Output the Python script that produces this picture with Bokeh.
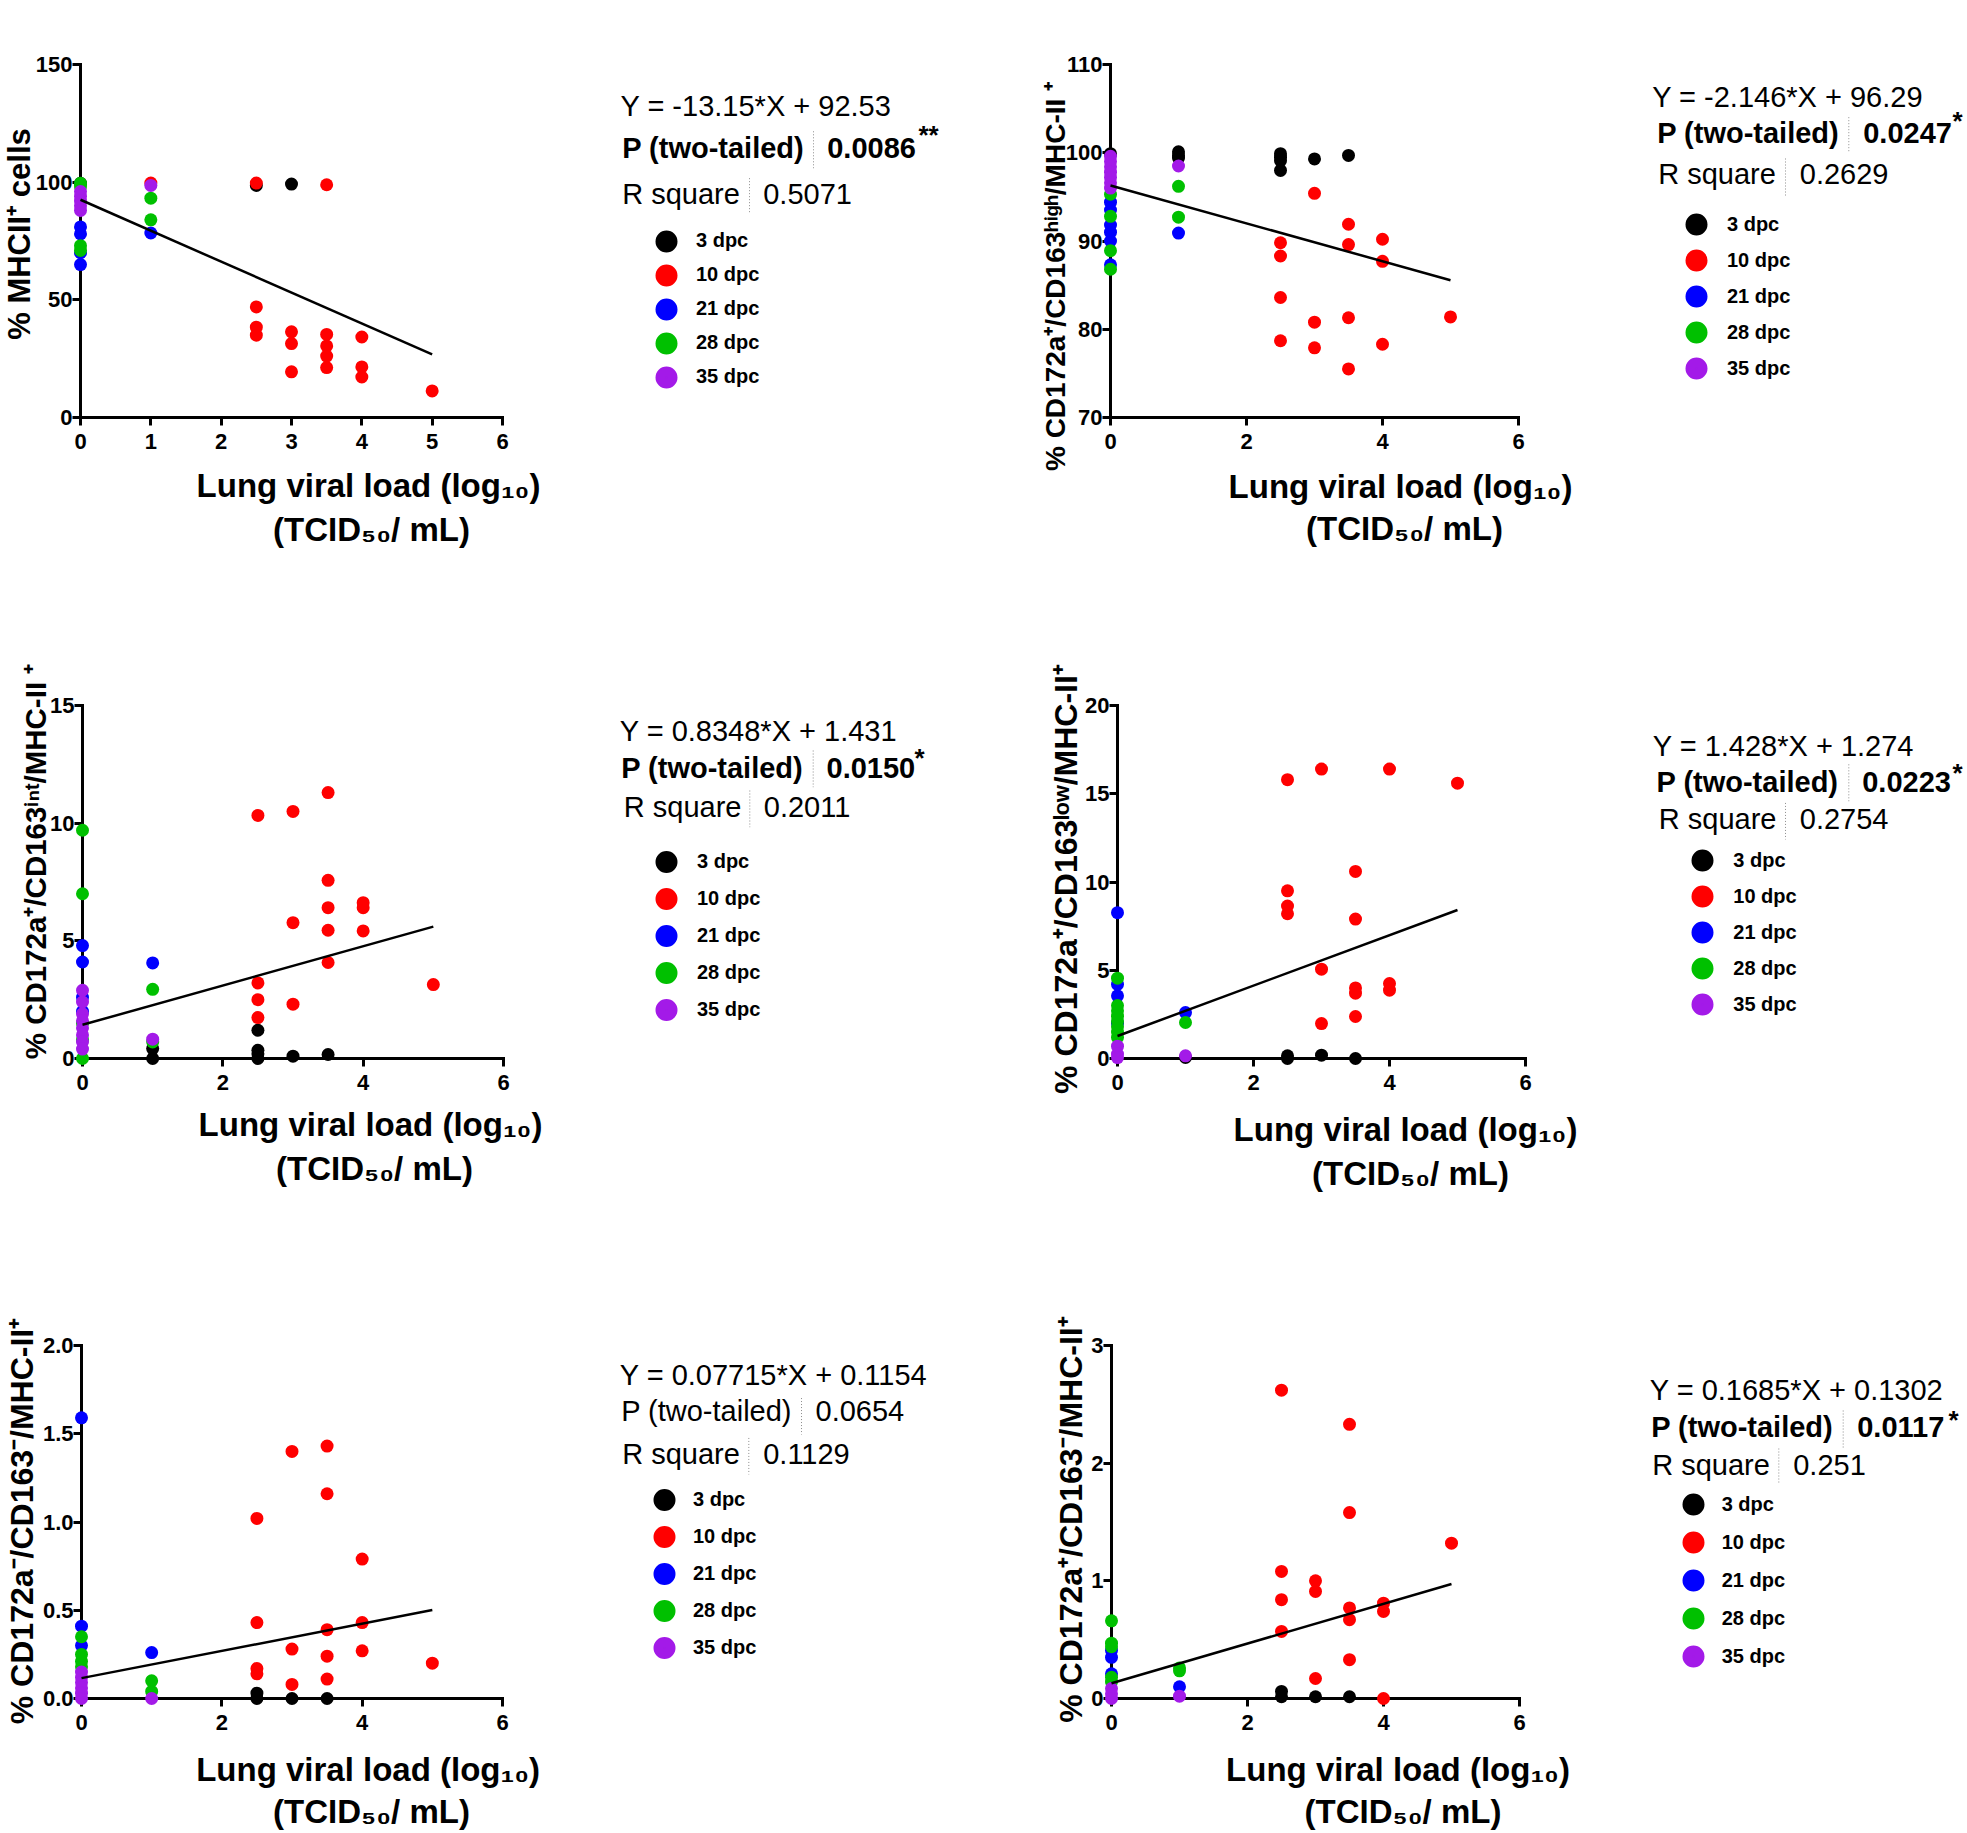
import math
from bokeh.plotting import figure
from bokeh.layouts import column, row
from bokeh.models import Range1d, FixedTicker, Legend, LegendItem, NumeralTickFormatter
from bokeh.core.properties import value
from bokeh.embed import file_html
from bokeh.resources import INLINE

FONT = "Liberation Sans"

# ---------------- data ----------------
GROUPS = ["3 dpc", "10 dpc", "21 dpc", "28 dpc", "35 dpc"]
COLORS = ["#000000", "#FF0000", "#0000FF", "#00C000", "#A31AE8"]

# Panel 1: % MHCII+ cells
P1_X = [0, 2.5, 3,
        1, 2.5, 2.5, 2.5, 2.5, 3, 3, 3, 3.5, 3.5, 3.5, 3.5, 3.5, 4, 4, 4, 5,
        0, 0, 0, 0, 1,
        0, 0, 0, 0, 1, 1,
        0, 0, 0, 0, 0, 1]
P1_Y = [99.5, 98.6, 99.2,
        99.6, 99.6, 47, 38.4, 35, 36.4, 31.4, 19.4, 98.9, 35.3, 30.4, 26.1, 21.2, 34.2, 21.5, 17.2, 11.3,
        81, 78, 70, 65, 78.4,
        99.5, 98, 73, 71, 93.2, 84,
        96, 94, 92, 90, 88, 98.6]
P1_G = ["3 dpc"] * 3 + ["10 dpc"] * 17 + ["21 dpc"] * 5 + ["28 dpc"] * 6 + ["35 dpc"] * 6

# Panel 2: % CD172a+/CD163high/MHC-II+
P2_X = [0, 1, 1, 1, 2.5, 2.5, 2.5, 2.5, 3, 3.5,
        2.5, 2.5, 2.5, 2.5, 3, 3, 3, 3.5, 3.5, 3.5, 3.5, 4, 4, 4, 5,
        0, 0, 0, 0, 0, 0, 1,
        0, 0, 0, 0, 1, 1,
        0, 0, 0, 0, 0, 0, 0, 1]
P2_Y = [99.9, 100.1, 99.7, 99.4, 99.9, 99.5, 99.1, 98.0, 99.3, 99.7,
        89.8, 88.3, 83.6, 78.7, 95.4, 80.8, 77.9, 91.9, 89.6, 81.3, 75.5, 90.2, 87.7, 78.3, 81.4,
        94.4, 93.5, 91.8, 91.0, 90.0, 87.3, 90.9,
        95.3, 92.8, 88.9, 86.8, 96.2, 92.7,
        99.6, 99.0, 98.4, 97.8, 97.2, 96.6, 96.0, 98.5]
P2_G = ["3 dpc"] * 10 + ["10 dpc"] * 15 + ["21 dpc"] * 7 + ["28 dpc"] * 6 + ["35 dpc"] * 8

# Panel 3: % CD172a+/CD163int/MHC-II+
P3_X = [1, 1, 2.5, 2.5, 2.5, 2.5, 3, 3.5,
        2.5, 2.5, 2.5, 2.5, 3, 3, 3, 3.5, 3.5, 3.5, 3.5, 3.5, 4, 4, 4, 5,
        0, 0, 0, 0, 1,
        0, 0, 0, 0, 0, 1, 1,
        0, 0, 0, 0, 0, 0, 0, 0, 1]
P3_Y = [0.42, 0.0, 1.2, 0.35, 0.2, 0.0, 0.1, 0.17,
        10.33, 3.21, 2.5, 1.74, 10.5, 5.77, 2.31, 11.3, 7.57, 6.41, 5.45, 4.08, 6.62, 6.41, 5.42, 3.14,
        4.8, 4.1, 2.6, 2.0, 4.06,
        9.7, 7.0, 1.5, 0.8, 0.0, 2.94, 0.7,
        2.9, 2.4, 1.9, 1.6, 1.3, 1.0, 0.7, 0.4, 0.82]
P3_G = ["3 dpc"] * 8 + ["10 dpc"] * 16 + ["21 dpc"] * 5 + ["28 dpc"] * 7 + ["35 dpc"] * 9

# Panel 4: % CD172a+/CD163low/MHC-II+
P4_X = [1, 2.5, 2.5, 3, 3.5,
        2.5, 2.5, 2.5, 2.5, 3, 3, 3, 3.5, 3.5, 3.5, 3.5, 3.5, 4, 4, 4, 5,
        0, 0, 0, 0, 1,
        0, 0, 0, 0, 0, 0, 0, 0, 1,
        0, 0, 0, 1]
P4_Y = [0.06, 0.15, 0.0, 0.19, 0.0,
        15.8, 9.5, 8.64, 8.2, 16.4, 5.06, 1.98, 10.6, 7.9, 4.0, 3.7, 2.38, 16.4, 4.25, 3.87, 15.6,
        8.26, 4.2, 3.55, 2.0, 2.6,
        4.55, 3.0, 2.7, 2.4, 2.1, 1.8, 1.5, 1.2, 2.04,
        0.7, 0.25, 0.05, 0.15]
P4_G = ["3 dpc"] * 5 + ["10 dpc"] * 16 + ["21 dpc"] * 5 + ["28 dpc"] * 9 + ["35 dpc"] * 4

# Panel 5: % CD172a-/CD163-/MHC-II+
P5_X = [2.5, 2.5, 3, 3.5,
        2.5, 2.5, 2.5, 2.5, 3, 3, 3, 3.5, 3.5, 3.5, 3.5, 3.5, 4, 4, 4, 5,
        0, 0, 0, 1,
        0, 0, 0, 0, 1, 1,
        0, 0, 0, 0, 0, 0, 1]
P5_Y = [0.03, 0.0, 0.0, 0.0,
        1.02, 0.43, 0.17, 0.14, 1.40, 0.28, 0.08, 1.43, 1.16, 0.39, 0.24, 0.11, 0.79, 0.43, 0.27, 0.20,
        1.59, 0.41, 0.30, 0.26,
        0.35, 0.25, 0.21, 0.18, 0.10, 0.04,
        0.15, 0.12, 0.09, 0.06, 0.03, 0.0, 0.0]
P5_G = ["3 dpc"] * 4 + ["10 dpc"] * 16 + ["21 dpc"] * 4 + ["28 dpc"] * 6 + ["35 dpc"] * 7

# Panel 6: % CD172a+/CD163-/MHC-II+
P6_X = [2.5, 2.5, 3, 3.5,
        2.5, 2.5, 2.5, 2.5, 3, 3, 3, 3.5, 3.5, 3.5, 3.5, 3.5, 4, 4, 4, 5,
        0, 0, 0, 1,
        0, 0, 0, 0, 0, 1, 1,
        0, 0, 0, 1]
P6_Y = [0.06, 0.015, 0.015, 0.015,
        2.62, 1.08, 0.84, 0.57, 1.0, 0.91, 0.17, 2.33, 1.58, 0.77, 0.67, 0.33, 0.81, 0.74, 0.0, 1.32,
        0.41, 0.35, 0.21, 0.1,
        0.66, 0.47, 0.44, 0.18, 0.14, 0.26, 0.235,
        0.085, 0.04, 0.0, 0.02]
P6_G = ["3 dpc"] * 4 + ["10 dpc"] * 16 + ["21 dpc"] * 4 + ["28 dpc"] * 7 + ["35 dpc"] * 4

SLOPES = [-13.15, -2.146, 0.8348, 1.428, 0.07715, 0.1685]
INTERCEPTS = [92.53, 96.29, 1.431, 1.274, 0.1154, 0.1302]
P_VALUES = ["0.0086", "0.0247", "0.0150", "0.0223", "0.0654", "0.0117"]
P_STARS = ["**", "*", "*", "*", "", " *"]
P_BOLD = [True, True, True, True, False, True]
R_SQUARES = ["0.5071", "0.2629", "0.2011", "0.2754", "0.1129", "0.251"]

Y_TITLES = ["% MHCII\u207a cells",
            "% CD172a\u207a/CD163\u02b0\u2071\u1d4d\u02b0/MHC-II \u207a",
            "% CD172a\u207a/CD163\u2071\u207f\u1d57/MHC-II \u207a",
            "% CD172a\u207a/CD163\u02e1\u1d52\u02b7/MHC-II\u207a",
            "% CD172a\u207b/CD163\u207b/MHC-II\u207a",
            "% CD172a\u207a/CD163\u207b/MHC-II\u207a"]
X_TITLE_1 = "Lung viral load (log\u2081\u2080)"
X_TITLE_2 = "(TCID\u2085\u2080/ mL)"

Y_TICKS = [[0, 50, 100, 150], [70, 80, 90, 100, 110], [0, 5, 10, 15],
           [0, 5, 10, 15, 20], [0, 0.5, 1.0, 1.5, 2.0], [0, 1, 2, 3]]
X_TICKS = [[0, 1, 2, 3, 4, 5, 6], [0, 2, 4, 6], [0, 2, 4, 6],
           [0, 2, 4, 6], [0, 2, 4, 6], [0, 2, 4, 6]]

DATA_X = [P1_X, P2_X, P3_X, P4_X, P5_X, P6_X]
DATA_Y = [P1_Y, P2_Y, P3_Y, P4_Y, P5_Y, P6_Y]
DATA_G = [P1_G, P2_G, P3_G, P4_G, P5_G, P6_G]

# ---------------- layout (page pixel positions; rows use text baselines) ----------------
LAYOUT = [
    dict(fig=(0, 0, 1000, 568), axes=(80, 417, 502, 63), eq=(620, 115), prow=(621.7, 157.3),
         psep=(813, 130, 167), pval=826.7, star=(918, 119), rrow=(621.7, 202.7),
         rsep=(749, 177, 212), rval=762.7, leg=(666, 240.7, 34.15, 696),
         xt=((368, 485.5), (371, 529.4)), yt=(29.4, 233), ytsize=31),
    dict(fig=(1000, 0, 1965, 568), axes=(1110, 417, 1518, 64), eq=(1651.7, 106.7), prow=(1656.7, 142.7),
         psep=(1848.3, 116.7, 151.7), pval=1862.7, star=(1952, 105), rrow=(1657.7, 183.3),
         rsep=(1785, 158, 195), rval=1799.3, leg=(1696, 224.3, 35.6, 1726.7),
         xt=((1400, 485.5), (1404, 528)), yt=(1065, 276), ytsize=28),
    dict(fig=(0, 568, 1000, 1208), axes=(82, 1058, 503, 705), eq=(619.3, 740.7), prow=(620.7, 777.3),
         psep=(812.7, 750, 786.7), pval=826, star=(914, 742), rrow=(623.3, 816.7),
         rsep=(749.3, 790, 826.7), rval=763.3, leg=(666, 861, 37.25, 696.7),
         xt=((370, 1124), (374, 1168)), yt=(45, 861), ytsize=29.5),
    dict(fig=(1000, 568, 1965, 1208), axes=(1117, 1058, 1525, 704), eq=(1652.3, 755), prow=(1656, 791),
         psep=(1848.3, 763, 800), pval=1861.7, star=(1952, 757), rrow=(1658.3, 828.3),
         rsep=(1785, 801.7, 838.3), rval=1799.3, leg=(1702.3, 860, 36.5, 1733.3),
         xt=((1405, 1129), (1410, 1173)), yt=(1076.7, 878), ytsize=32),
    dict(fig=(0, 1208, 1000, 1831), axes=(81, 1698, 502, 1344), eq=(619.3, 1383.3), prow=(620.7, 1420),
         psep=(801, 1396.7, 1433.3), pval=815, star=(905, 1391), rrow=(621.7, 1463.3),
         rsep=(748.3, 1436.7, 1473.3), rval=762.7, leg=(664, 1499.3, 36.7, 693.3),
         xt=((367.6, 1769), (371, 1811)), yt=(33, 1520), ytsize=32),
    dict(fig=(1000, 1208, 1965, 1831), axes=(1111, 1698, 1519, 1345), eq=(1649.3, 1400), prow=(1650.7, 1436.7),
         psep=(1842.7, 1410, 1448.3), pval=1856.7, star=(1948, 1404), rrow=(1651.7, 1475),
         rsep=(1778.3, 1448, 1483), rval=1792.7, leg=(1692.7, 1504, 37.5, 1721.7),
         xt=((1397.5, 1769), (1402.5, 1811)), yt=(1082, 1519), ytsize=32),
]

MID = 0.35  # distance (in em) from the alphabetic baseline up to the text middle


def build(i):
    xs, ys, gs = DATA_X[i], DATA_Y[i], DATA_G[i]
    L = LAYOUT[i]
    fx0, fy0, fx1, fy1 = L["fig"]
    ox, oy, x6, ytop = L["axes"]
    yticks = Y_TICKS[i]
    ymin, ymax = yticks[0], yticks[-1]
    xmax = X_TICKS[i][-1]
    pxu_x = (x6 - ox) / xmax
    pxu_y = (oy - ytop) / (ymax - ymin)

    def dx(px):
        return (px - ox) / pxu_x

    def dy(py):
        return ymin + (oy - py) / pxu_y

    # the frame reaches the right edge of the figure so that the statistics
    # block and the legend lie inside it; the x axis itself stops at 6
    p = figure(width=fx1 - fx0, height=fy1 - fy0,
               x_range=Range1d(0, dx(fx1)), y_range=Range1d(ymin, ymax),
               min_border_left=int(ox - fx0), min_border_right=0,
               min_border_top=int(ytop - fy0), min_border_bottom=int(fy1 - oy),
               output_backend="svg", toolbar_location=None, title=None, tools="")
    p.xgrid.visible = False
    p.ygrid.visible = False
    p.outline_line_color = None
    p.background_fill_color = "white"
    p.border_fill_color = "white"

    for ax in (p.xaxis[0], p.yaxis[0]):
        ax.axis_line_width = 3
        ax.axis_line_color = "black"
        ax.axis_line_cap = "square"
        ax.major_tick_line_width = 3
        ax.major_tick_line_color = "black"
        ax.major_tick_out = 8
        ax.major_tick_in = 0
        ax.minor_tick_line_color = None
        ax.major_label_text_font = FONT
        ax.major_label_text_font_size = "22px"
        ax.major_label_text_font_style = "bold"
        ax.major_label_text_color = "black"
    p.xaxis[0].ticker = FixedTicker(ticks=X_TICKS[i])
    p.xaxis[0].bounds = (0, xmax)
    p.xaxis[0].major_label_standoff = 8
    p.yaxis[0].ticker = FixedTicker(ticks=yticks)
    p.yaxis[0].bounds = (ymin, ymax)
    p.yaxis[0].major_label_standoff = 0
    if i == 4:
        p.yaxis[0].formatter = NumeralTickFormatter(format="0.0")

    # data points (drawn above the axes, not cut at the axes)
    for g, c in zip(GROUPS, COLORS):
        sx = [x for x, gg in zip(xs, gs) if gg == g]
        sy = [y for y, gg in zip(ys, gs) if gg == g]
        p.scatter(sx, sy, size=13, fill_color=c, line_color=None, level="overlay")

    # regression line from the reported slope / intercept
    fit_x = [0, max(xs)]
    fit_y = [SLOPES[i] * x + INTERCEPTS[i] for x in fit_x]
    p.line(fit_x, fit_y, line_width=2.5, line_color="black", level="overlay")

    def txt(px, py, text, size, bold=False, align="left", baseline="middle", angle=0.0):
        p.text(x=[dx(px)], y=[dy(py)], text=[text], text_font=value(FONT),
               text_font_size=value(f"{size}px"),
               text_font_style=value("bold" if bold else "normal"),
               text_align=value(align), text_baseline=value(baseline), angle=angle,
               text_color="black", level="overlay")

    def row_txt(px, py_base, text, size, bold=False):
        txt(px, py_base - MID * size, text, size, bold=bold)

    def sep(px, py0, py1):
        p.segment(x0=[dx(px)], y0=[dy(py0)], x1=[dx(px)], y1=[dy(py1)],
                  line_color="#8c8c8c", line_width=1, line_dash="1 2", level="overlay")

    # statistics block
    row_txt(*L["eq"], f"Y = {SLOPES[i]}*X + {INTERCEPTS[i]}", 29)
    row_txt(*L["prow"], "P (two-tailed)", 29, bold=P_BOLD[i])
    sep(*L["psep"])
    row_txt(L["pval"], L["prow"][1], P_VALUES[i], 29, bold=P_BOLD[i])
    if P_STARS[i]:
        txt(L["star"][0], L["star"][1], P_STARS[i], 26, bold=True, baseline="top")
    row_txt(*L["rrow"], "R square", 29)
    sep(*L["rsep"])
    row_txt(L["rval"], L["rrow"][1], R_SQUARES[i], 29)

    # axis titles
    (l1x, l1y), (l2x, l2y) = L["xt"]
    txt(l1x, l1y, X_TITLE_1, 33, bold=True, align="center")
    txt(l2x, l2y, X_TITLE_2, 33, bold=True, align="center")
    ysz = L["ytsize"]
    txt(L["yt"][0] - MID * ysz, L["yt"][1], Y_TITLES[i], ysz, bold=True, align="center",
        angle=math.pi / 2)

    # legend (inside the frame, right of the x axis)
    cx, cy0, step, lx = L["leg"]
    gw = 30
    gh = int(round(step))
    items = []
    for g, c in zip(GROUPS, COLORS):
        r = p.scatter([math.nan], [math.nan], size=1, fill_color=c, line_color=c, line_width=10)
        items.append(LegendItem(label=g, renderers=[r]))
    top = cy0 - gh / 2
    bottom = top + 5 * gh
    leg = Legend(items=items, location=(cx - gw / 2 - ox, oy - bottom),
                 orientation="vertical", glyph_width=gw, glyph_height=gh,
                 label_height=20, spacing=0, padding=0, margin=0,
                 label_standoff=int(round(lx - (cx + gw / 2))),
                 border_line_color=None, background_fill_alpha=0,
                 label_text_font=FONT, label_text_font_size="20px",
                 label_text_font_style="bold", label_text_color="black")
    p.add_layout(leg, "center")
    return p


figs = [build(i) for i in range(6)]
layout = column(row(figs[0], figs[1]), row(figs[2], figs[3]), row(figs[4], figs[5]))
open("out.html", "w").write(file_html(layout, INLINE, "Lung viral load correlations"))
